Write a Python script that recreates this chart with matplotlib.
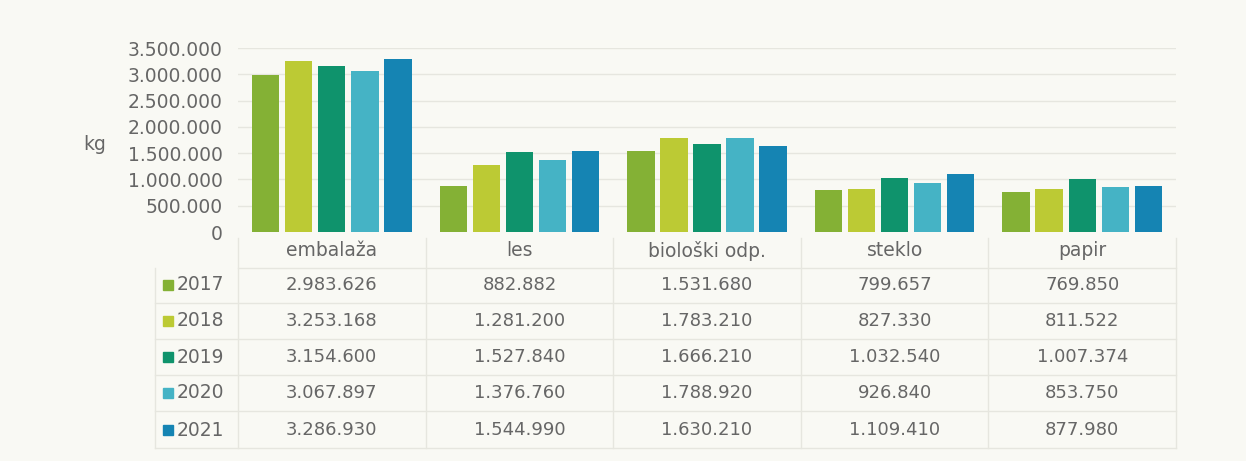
import matplotlib.pyplot as plt
import matplotlib.transforms as mtransforms
from matplotlib.patches import Rectangle

categories = ["embalaža", "les", "biološki odp.", "steklo", "papir"]
years = ["2017", "2018", "2019", "2020", "2021"]
v2017 = [2983626, 882882, 1531680, 799657, 769850]
v2018 = [3253168, 1281200, 1783210, 827330, 811522]
v2019 = [3154600, 1527840, 1666210, 1032540, 1007374]
v2020 = [3067897, 1376760, 1788920, 926840, 853750]
v2021 = [3286930, 1544990, 1630210, 1109410, 877980]
series = [v2017, v2018, v2019, v2020, v2021]
colors = ["#84b135", "#bcca34", "#0f936c", "#45b3c5", "#1584b3"]

W, H = 1246, 461
bg = "#f9f9f4"
txt = "#666666"
line_c = "#e6e6df"
font = "DejaVu Sans"


def fmt(v):
    return f"{v:,}".replace(",", ".")


def fy(px):
    # pixel row (from top) -> figure fraction
    return 1 - px / H


fig = plt.figure(figsize=(W / 100, H / 100), dpi=100, facecolor=bg)
ax = fig.add_axes([238 / W, fy(232), (1176 - 238) / W, (232 - 48) / H])
ax.set_facecolor(bg)

pitch = 0.176
width = 0.146
xs = range(len(categories))
for i, vals in enumerate(series):
    ax.bar([x + (i - 2) * pitch for x in xs], vals, width=width,
           color=colors[i], zorder=3)

ax.set_xlim(-0.5, len(categories) - 0.5)
ax.set_ylim(0, 3500000)
yt = list(range(0, 3500001, 500000))
ax.set_yticks(yt)
ax.set_yticklabels([fmt(t) for t in yt], fontsize=13.5, color=txt, family=font)
ax.tick_params(axis="y", length=0, pad=11)
ax.set_xticks([])
for t in yt[1:]:
    ax.axhline(t, color=line_c, lw=1, zorder=1)
for s in ax.spines.values():
    s.set_visible(False)

fig.text(95 / W, fy(145), "kg", fontsize=13.5, color=txt, family=font,
         ha="center", va="center")

# data table below the bars
tr = mtransforms.blended_transform_factory(ax.transData, fig.transFigure)
x_left = -0.5 - (238 - 155) / 187.6
header_y = 251
row_ys = [285, 321, 357, 393, 430]
row_lines = [268, 303, 339, 375, 411, 448]

for j, c in enumerate(categories):
    fig.text(j, fy(header_y), c, transform=tr, fontsize=13.5, color=txt,
             family=font, ha="center", va="center")

for i, yr in enumerate(years):
    y = row_ys[i]
    sq_x = -0.5 - (238 - 163) / 187.6
    sq_w = 10 / 187.6
    fig.patches.append(Rectangle((sq_x, fy(y + 5)), sq_w, 10 / H,
                                 transform=tr, color=colors[i]))
    fig.text(-0.5 - (238 - 177) / 187.6, fy(y), yr, transform=tr,
             fontsize=13.5, color=txt, family=font, ha="left", va="center")
    for j in range(len(categories)):
        fig.text(j, fy(y), fmt(series[i][j]), transform=tr, fontsize=13,
                 color=txt, family=font, ha="center", va="center")

for k, ly in enumerate(row_lines):
    x0 = x_left if k > 0 else -0.5
    fig.add_artist(plt.Line2D([x0, len(categories) - 0.5], [fy(ly), fy(ly)],
                              transform=tr, color=line_c, lw=1))
for b in range(len(categories) + 1):
    xb = b - 0.5
    fig.add_artist(plt.Line2D([xb, xb], [fy(238), fy(448)], transform=tr,
                              color=line_c, lw=1))
fig.add_artist(plt.Line2D([x_left, x_left], [fy(268), fy(448)], transform=tr,
                          color=line_c, lw=1))

fig.savefig("out.png", dpi=100, facecolor=bg)
